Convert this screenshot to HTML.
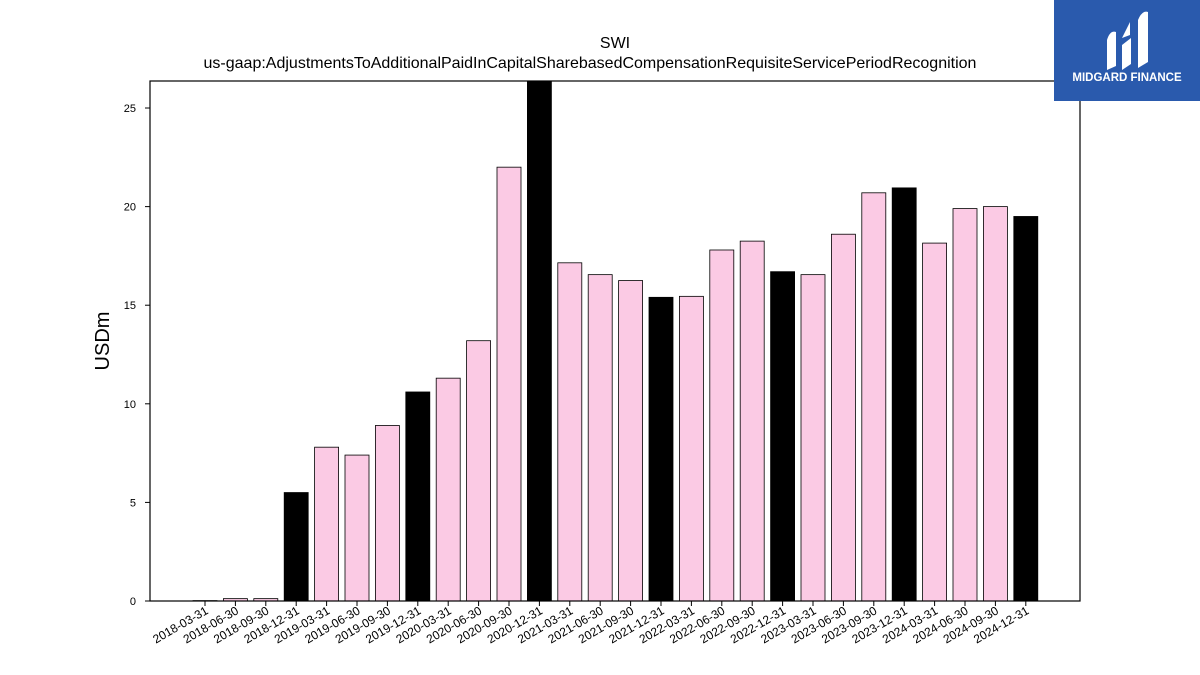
<!DOCTYPE html>
<html><head><meta charset="utf-8"><style>
body{margin:0;background:#fff;}
svg{display:block;font-family:"Liberation Sans","DejaVu Sans",sans-serif;}
</style></head><body>
<svg id="chart" width="1200" height="675" viewBox="0 0 1200 675">
<text x="615" y="48" text-anchor="middle" font-size="16">SWI</text>
<text x="590" y="68" text-anchor="middle" font-size="16">us-gaap:AdjustmentsToAdditionalPaidInCapitalSharebasedCompensationRequisiteServicePeriodRecognition</text>
<text transform="translate(109,341) rotate(-90)" text-anchor="middle" font-size="20">USDm</text>
<g id="bars"></g><g id="yticks"></g><g id="xticks"></g>
<rect x="150" y="81" width="930" height="520" fill="none" stroke="#000" stroke-width="1.2"/>
<g>
<rect x="1054" y="0" width="146" height="101" fill="#2a5aad"/>
<path d="M1107 70 L1107 40 Q1110 30 1116 32 L1116 66 Z M1122 70 L1122 45 L1131 38 L1131 64 Z M1138 68 L1138 20 Q1142 10 1148 12 L1148 62 Z M1122 38 L1130 22 L1130 35 Z" fill="#fff"/>
<text x="1127" y="81" text-anchor="middle" font-size="11.5" font-weight="bold" fill="#fff">MIDGARD FINANCE</text>
</g>
</svg>
<script>
const categories=["2018-03-31","2018-06-30","2018-09-30","2018-12-31","2019-03-31","2019-06-30","2019-09-30","2019-12-31","2020-03-31","2020-06-30","2020-09-30","2020-12-31","2021-03-31","2021-06-30","2021-09-30","2021-12-31","2022-03-31","2022-06-30","2022-09-30","2022-12-31","2023-03-31","2023-06-30","2023-09-30","2023-12-31","2024-03-31","2024-06-30","2024-09-30","2024-12-31"];
const values=[0.02,0.12,0.12,5.5,7.8,7.4,8.9,10.6,11.3,13.2,22.0,26.4,17.15,16.55,16.25,15.4,15.45,17.8,18.25,16.7,16.55,18.6,20.7,20.95,18.15,19.9,20.0,19.5];
const yTicks=[0,5,10,15,20,25];
const NS="http://www.w3.org/2000/svg";
const x0=150,x1=1080,yTop=81,yBot=601,yMax=26.37;
const y=v=>yBot-(v/yMax)*(yBot-yTop);
const step=30.4,first=205;
const xc=i=>first+i*step;
const bars=document.getElementById('bars'),yt=document.getElementById('yticks'),xt=document.getElementById('xticks');
categories.forEach((c,i)=>{
 const v=values[i];const yy=Math.max(y(v),yTop);
 const r=document.createElementNS(NS,'rect');
 r.setAttribute('x',xc(i)-12);r.setAttribute('width',24);
 r.setAttribute('y',yy);r.setAttribute('height',Math.max(yBot-yy,0.5));
 r.setAttribute('fill',c.endsWith('12-31')?'#000':'#fbcae4');
 r.setAttribute('stroke','#000');r.setAttribute('stroke-width','0.8');
 
 
 bars.appendChild(r);
 const t=document.createElementNS(NS,'line');
 t.setAttribute('x1',xc(i));t.setAttribute('x2',xc(i));t.setAttribute('y1',yBot);t.setAttribute('y2',yBot+5);t.setAttribute('stroke','#000');
 
 
 xt.appendChild(t);
 const l=document.createElementNS(NS,'text');
 l.setAttribute('transform','translate('+(xc(i)+4)+','+(yBot+12)+') rotate(-30)');
 l.setAttribute('text-anchor','end');l.setAttribute('font-size','12');
 l.textContent=c;
 
 
 xt.appendChild(l);
});
yTicks.forEach(v=>{
 const t=document.createElementNS(NS,'line');
 t.setAttribute('x1',x0-5);t.setAttribute('x2',x0);t.setAttribute('y1',y(v));t.setAttribute('y2',y(v));t.setAttribute('stroke','#000');
 
 
 yt.appendChild(t);
 const l=document.createElementNS(NS,'text');
 l.setAttribute('x',x0-14);l.setAttribute('y',y(v)+4);l.setAttribute('text-anchor','end');l.setAttribute('font-size','11');
 l.textContent=v;
 
 
 yt.appendChild(l);
});
</script>
</body></html>
